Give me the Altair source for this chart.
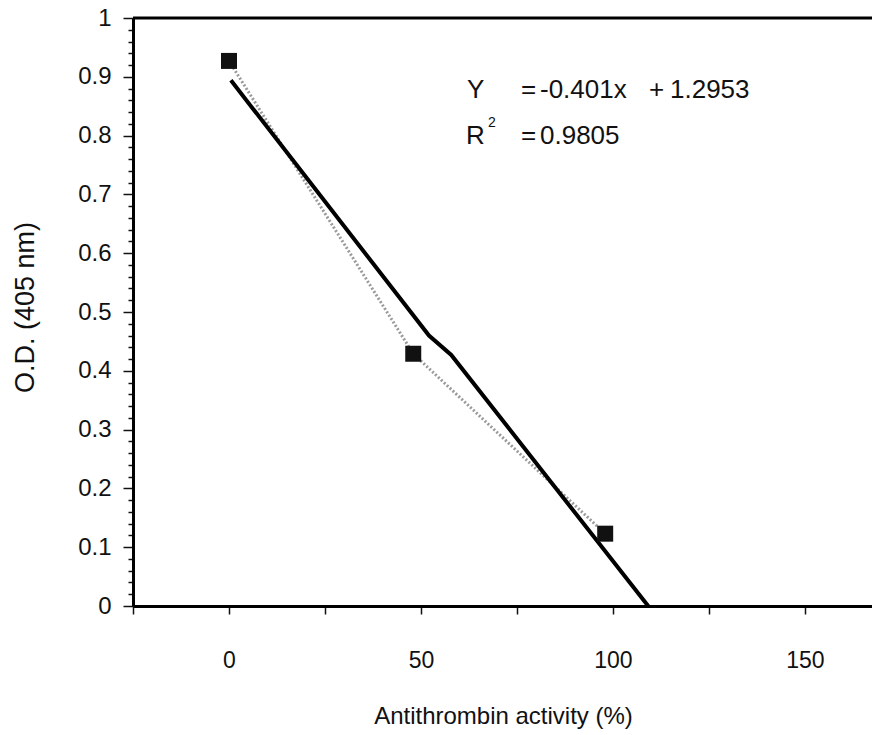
import altair as alt
import pandas as pd

# measured points
activity = [0, 48, 98]
od = [0.927, 0.429, 0.123]

# regression line as drawn (with the small jog)
fit_x = [0.5, 52.1, 57.9, 109.2]
fit_y = [0.894, 0.460, 0.427, 0.0]

x_ticks = [-25, 0, 25, 50, 75, 100, 125, 150]
y_ticks = [round(i * 0.02, 2) for i in range(51)]

FONT = "Liberation Sans"
W, H = 739, 588

pts = pd.DataFrame({"x": activity, "y": od})
fit = pd.DataFrame({"x": fit_x, "y": fit_y, "o": list(range(len(fit_x)))})

xscale = alt.Scale(domain=[-25, 167.5], nice=False, zero=False)
yscale = alt.Scale(domain=[0, 1], nice=False)

MAJ = "abs(datum.value*10 - round(datum.value*10)) < 0.001"

xaxis = alt.Axis(
    values=x_ticks,
    labelExpr="datum.value % 50 == 0 ? datum.label : ''",
    format="d",
    labelFont=FONT, labelFontSize=23, labelColor="#111",
    labelPadding=35, tickSize=8, tickWidth=1.5, tickColor="#111",
    domainColor="#000", domainWidth=3, grid=False, labelOverlap=False,
    title="Antithrombin activity (%)", titleFont=FONT, titleFontSize=24,
    titleFontWeight="normal", titleColor="#111",
    titleX=370, titleY=110, titleBaseline="middle", titleAnchor="middle",
)
yaxis = alt.Axis(
    values=y_ticks,
    labelExpr=MAJ + " ? format(datum.value, '.1~f') : ''",
    labelFont=FONT, labelFontSize=24, labelColor="#111", labelOverlap=False,
    labelPadding=12,
    tickSize={"condition": {"test": MAJ, "value": 10}, "value": 5},
    tickWidth=1.5, tickColor="#111",
    domainColor="#000", domainWidth=3, grid=False,
    title="O.D. (405 nm)", titleFont=FONT, titleFontSize=27,
    titleFontWeight="normal", titleColor="#111",
    titleX=-108, titleY=289, titleBaseline="middle", titleAngle=270,
)

X = alt.X("x:Q", scale=xscale, axis=xaxis)
Y = alt.Y("y:Q", scale=yscale, axis=yaxis)

dotted = alt.Chart(pts).mark_line(color="#9a9a9a", strokeWidth=3, strokeDash=[2, 2]).encode(
    x=X, y=Y
)
fitline = alt.Chart(fit).mark_line(color="#000", strokeWidth=4).encode(
    x=X, y=Y, order="o:Q"
)
squares = alt.Chart(pts).mark_square(size=256, color="#111", opacity=1).encode(
    x=X, y=Y
)
top = alt.Chart(pd.DataFrame({"a": [0]})).mark_rule(color="#000", strokeWidth=3).encode(
    x=alt.value(0), x2=alt.value(W), y=alt.value(0)
)

def txt(s, x, y, size=26, align="left"):
    return alt.Chart(pd.DataFrame({"t": [s]})).mark_text(
        font=FONT, fontSize=size, color="#111", align=align, baseline="middle"
    ).encode(text="t:N", x=alt.value(x), y=alt.value(y))

# pieces of the equation annotation (plot-area pixel offsets)
annot = [
    txt("Y", 334, 72),
    txt("=", 388, 72),
    txt("-0.401x", 407, 72),
    txt("+", 516, 72),
    txt("1.2953", 537, 72),
    txt("R", 333, 118),
    txt("2", 355, 105, size=14),
    txt("=", 388, 118),
    txt("0.9805", 407, 118),
]

chart = alt.layer(dotted, fitline, squares, top, *annot).properties(
    width=W, height=H,
    autosize=alt.AutoSizeParams(type="none"),
    padding={"left": 133, "top": 18, "right": 0, "bottom": 129},
).configure_view(stroke=None).configure(background="white")

chart.save("out.html", embed_options={"renderer": "svg", "actions": False})
